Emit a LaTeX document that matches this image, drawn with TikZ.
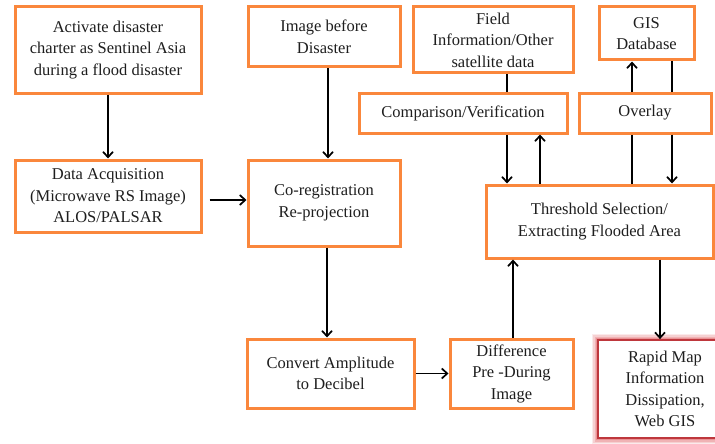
\documentclass[tikz,border=0pt]{standalone}
\usepackage{fontspec}
\setmainfont{Liberation Serif}
\usetikzlibrary{arrows.meta,calc}
\definecolor{boxorange}{RGB}{250,135,60}
\definecolor{glowred}{RGB}{225,90,95}
\definecolor{darkred}{RGB}{190,55,60}
\definecolor{txt}{RGB}{30,30,30}
\begin{document}
\begin{tikzpicture}[x=1pt,y=-1pt,
  box/.style={draw=boxorange,line width=3pt,fill=white,inner sep=0pt,align=center,
    text=txt,font=\fontsize{16.5}{21.5}\selectfont},
  arr/.style={line width=1.7pt,-{Straight Barb[length=5.5pt,width=10pt,line width=1.7pt]}},
  ln/.style={line width=1.7pt}]
\useasboundingbox (0,0) rectangle (715,444);
\fill[white] (0,0) rectangle (715,444);
\node[box,minimum width=186pt,minimum height=86pt] (A) at (108,50)
  {Activate disaster\\charter as Sentinel Asia\\during a flood disaster};
\node[box,minimum width=186pt,minimum height=72pt] (B) at (108,196)
  {Data Acquisition\\(Microwave RS Image)\\ALOS/PALSAR};
\node[box,minimum width=152pt,minimum height=60pt] (C) at (324,37)
  {Image before\\Disaster};
\node[box,minimum width=152pt,minimum height=86pt] (D) at (324,203)
  {Co-registration\\Re-projection};
\node[box,minimum width=160pt,minimum height=66pt] (E) at (493,40)
  {Field\\Information/Other\\satellite data};
\node[box,minimum width=208pt,minimum height=40pt] (F) at (463,113)
  {Comparison/Verification};
\node[box,minimum width=95pt,minimum height=53pt] (G) at (646.5,33.5)
  {GIS\\Database};
\node[box,minimum width=132pt,minimum height=40pt] (H) at (645,113)
  {Overlay};
\node[box,minimum width=227pt,minimum height=73pt] (I) at (599.5,221.5)
  {Threshold Selection/\\Extracting Flooded Area};
\node[box,minimum width=167pt,minimum height=69pt] (J) at (330.5,373.5)
  {Convert Amplitude\\to Decibel};
\node[box,minimum width=123pt,minimum height=69pt] (K) at (511.5,373.5)
  {Difference\\Pre -During\\Image};
% glowing red box
\foreach \w/\o in {13/0.12,10/0.18,7/0.25,4/0.35}{
  \draw[glowred,line width=\w pt,opacity=\o] (598,340) rectangle (732,438);}
\node[draw=darkred,line width=1.8pt,fill=white,inner sep=0pt,align=center,text=txt,
  font=\fontsize{16.5}{21.5}\selectfont,minimum width=134pt,minimum height=98pt] (L) at (665,389)
  {Rapid Map\\Information\\Dissipation,\\Web GIS};
% coordinates for connectors
\coordinate (x507) at (507,0);
\coordinate (x540) at (540,0);
\coordinate (x632) at (632,0);
\coordinate (x672) at (672,0);
\coordinate (x660) at (660,0);
\coordinate (x328) at (328,0);
\coordinate (x327) at (327,0);
\coordinate (x513) at (513,0);
\coordinate (y200) at (0,200);
% connectors
\draw[arr] (A.south) -- (B.north);
\draw[arr,shorten <=7pt] (B.east |- y200) -- (D.west |- y200);
\draw[arr] (C.south -| x328) -- (D.north -| x328);
\draw[arr] (D.south -| x327) -- (J.north -| x327);
\draw[arr] (J.east) -- (K.west);
\draw[arr] (K.north -| x513) -- (I.south -| x513);
\draw[arr] (I.south -| x660) -- (L.north -| x660);
\draw[ln] (E.south -| x507) -- (F.north -| x507);
\draw[arr] (F.south -| x507) -- (I.north -| x507);
\draw[arr] (I.north -| x540) -- (F.south -| x540);
\draw[arr] (H.north -| x632) -- (G.south -| x632);
\draw[ln] (G.south -| x672) -- (H.north -| x672);
\draw[ln] (I.north -| x632) -- (H.south -| x632);
\draw[arr] (H.south -| x672) -- (I.north -| x672);
\end{tikzpicture}
\end{document}
